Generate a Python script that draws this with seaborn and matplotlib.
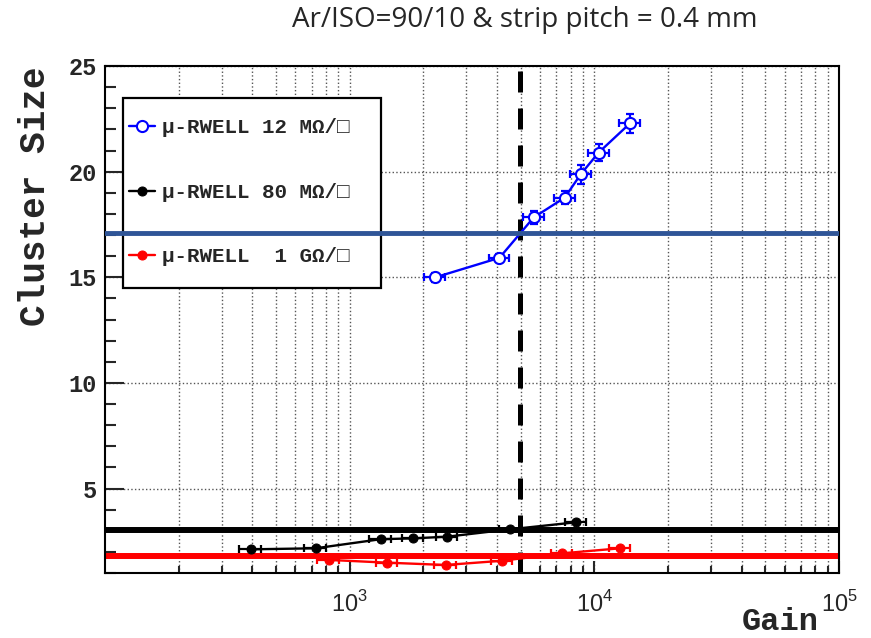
import matplotlib
matplotlib.use("Agg")
import matplotlib.pyplot as plt
from matplotlib.patches import Rectangle
from matplotlib.ticker import FixedLocator, FixedFormatter, MultipleLocator, NullFormatter
import pandas as pd
import seaborn as sns

# valori (Gain, Cluster Size)
gain_12M = [2230, 4095, 5650, 7570, 8790, 10410, 14030]
cs_12M = [14.99, 15.92, 17.83, 18.77, 19.87, 20.90, 22.30]
gain_err_12M = [220, 400, 560, 750, 870, 1030, 1400]
cs_err_12M = [0.2, 0.2, 0.3, 0.3, 0.45, 0.4, 0.45]

gain_80M = [394, 726, 1339, 1819, 2506, 4540, 8410]
cs_80M = [2.12, 2.17, 2.60, 2.64, 2.72, 3.07, 3.40]
gain_err_80M = [42, 75, 135, 180, 250, 450, 830]
cs_err_80M = [0.05, 0.05, 0.05, 0.05, 0.05, 0.05, 0.05]

gain_1G = [823, 1416, 2466, 4200, 7380, 12770]
cs_1G = [1.62, 1.49, 1.38, 1.58, 1.93, 2.17]
gain_err_1G = [85, 140, 250, 420, 740, 1270]
cs_err_1G = [0.05, 0.05, 0.05, 0.05, 0.05, 0.05]

labels = ["\u03bc-RWELL 12 M\u03a9/\u25a1", "\u03bc-RWELL 80 M\u03a9/\u25a1", "\u03bc-RWELL  1 G\u03a9/\u25a1"]
colors = ["#0000ff", "#000000", "#ff0000"]

hline_blue = 17.1
hline_black = 3.05
hline_red = 1.81
gain_cut = 4950

x_ticks = [1e3, 1e4, 1e5]
x_ticklabels = ["$10^{3}$", "$10^{4}$", "$10^{5}$"]

sns.set_style("ticks")
plt.rcParams["font.family"] = ["Liberation Mono", "DejaVu Sans Mono"]
plt.rcParams["mathtext.fontset"] = "custom"
plt.rcParams["mathtext.rm"] = "Liberation Sans"

fig = plt.figure(figsize=(8.71, 6.38), dpi=100)
ax = fig.add_axes([105 / 871, 1 - 573 / 638, 734 / 871, 507 / 638])

series = [
    (gain_12M, cs_12M, gain_err_12M, cs_err_12M),
    (gain_80M, cs_80M, gain_err_80M, cs_err_80M),
    (gain_1G, cs_1G, gain_err_1G, cs_err_1G),
]

for i, (g, c, ge, ce) in enumerate(series):
    df = pd.DataFrame({"Gain": g, "Cluster Size": c})
    ax.errorbar(g, c, xerr=ge, yerr=ce, fmt="none", ecolor=colors[i],
                elinewidth=1.6, capsize=3, capthick=1.6, zorder=3)
    if i == 0:
        sns.lineplot(data=df, x="Gain", y="Cluster Size", ax=ax, color=colors[i],
                     marker="o", markersize=8, markerfacecolor="white",
                     markeredgecolor=colors[i], markeredgewidth=1.5,
                     linewidth=1.7, label=labels[i], errorbar=None, zorder=4)
    else:
        sns.lineplot(data=df, x="Gain", y="Cluster Size", ax=ax, color=colors[i],
                     marker="o", markersize=6.5, markeredgecolor=colors[i],
                     linewidth=1.7, label=labels[i], errorbar=None, zorder=4)

# linee di riferimento
ax.axvline(gain_cut, color="black", lw=3.6, dashes=(4.2, 3.2), zorder=2)
ax.axhline(hline_blue, color="#2f5597", lw=3.5, zorder=7)
ax.axhline(hline_black, color="black", lw=4.3, zorder=2)
ax.axhline(hline_red, color="#ff0000", lw=4.3, zorder=2)

ax.set_xscale("log")
ax.set_xlim(100, 1e5)
ax.set_ylim(1, 25)

ax.xaxis.set_major_locator(FixedLocator(x_ticks))
ax.xaxis.set_major_formatter(FixedFormatter(x_ticklabels))
ax.xaxis.set_minor_formatter(NullFormatter())
ax.yaxis.set_major_locator(MultipleLocator(5))
ax.yaxis.set_minor_locator(MultipleLocator(1))

ax.grid(True, which="both", axis="x", ls=":", color="#555555", lw=1)
ax.grid(True, which="major", axis="y", ls=":", color="#555555", lw=1)

ax.tick_params(axis="both", which="both", direction="in", width=1.5, top=False, right=False)
ax.tick_params(axis="y", which="major", length=14, pad=6, labelsize=17)
ax.tick_params(axis="y", which="minor", length=8)
ax.tick_params(axis="x", which="major", length=8.5, pad=13, labelsize=17)
ax.tick_params(axis="x", which="minor", length=5)
for lab in ax.get_yticklabels():
    lab.set_fontweight("bold")
for sp in ax.spines.values():
    sp.set_linewidth(1.5)
    sp.set_color("black")

ax.set_xlabel("")
ax.set_ylabel("")
ax.text(-0.095, 1.0, "Cluster Size", transform=ax.transAxes, rotation=90,
        ha="center", va="top", fontsize=26, fontweight="bold")
fig.text(819 / 871, 1 / 638, "Gain", ha="right", va="bottom",
         fontsize=23, fontweight="bold")

# riquadro della legenda
ax.add_patch(Rectangle((0.0245, 0.562), 0.3515, 0.3748, transform=ax.transAxes,
                       facecolor="white", edgecolor="black", lw=1.6, zorder=5))
leg = ax.legend(loc="upper left", bbox_to_anchor=(0.0327, 0.897), frameon=False,
                prop={"family": ["Liberation Mono", "DejaVu Sans Mono"], "weight": "bold", "size": 15},
                labelspacing=2.19, borderpad=0, handlelength=1.25, handletextpad=0.34,
                borderaxespad=0)
leg.set_zorder(6)

fig.text(525 / 871, 1 - 20 / 638, "Ar/ISO=90/10 & strip pitch = 0.4 mm",
         ha="center", va="center", fontsize=20, family=["Open Sans", "DejaVu Sans"])

fig.savefig("out.png", dpi=100)
